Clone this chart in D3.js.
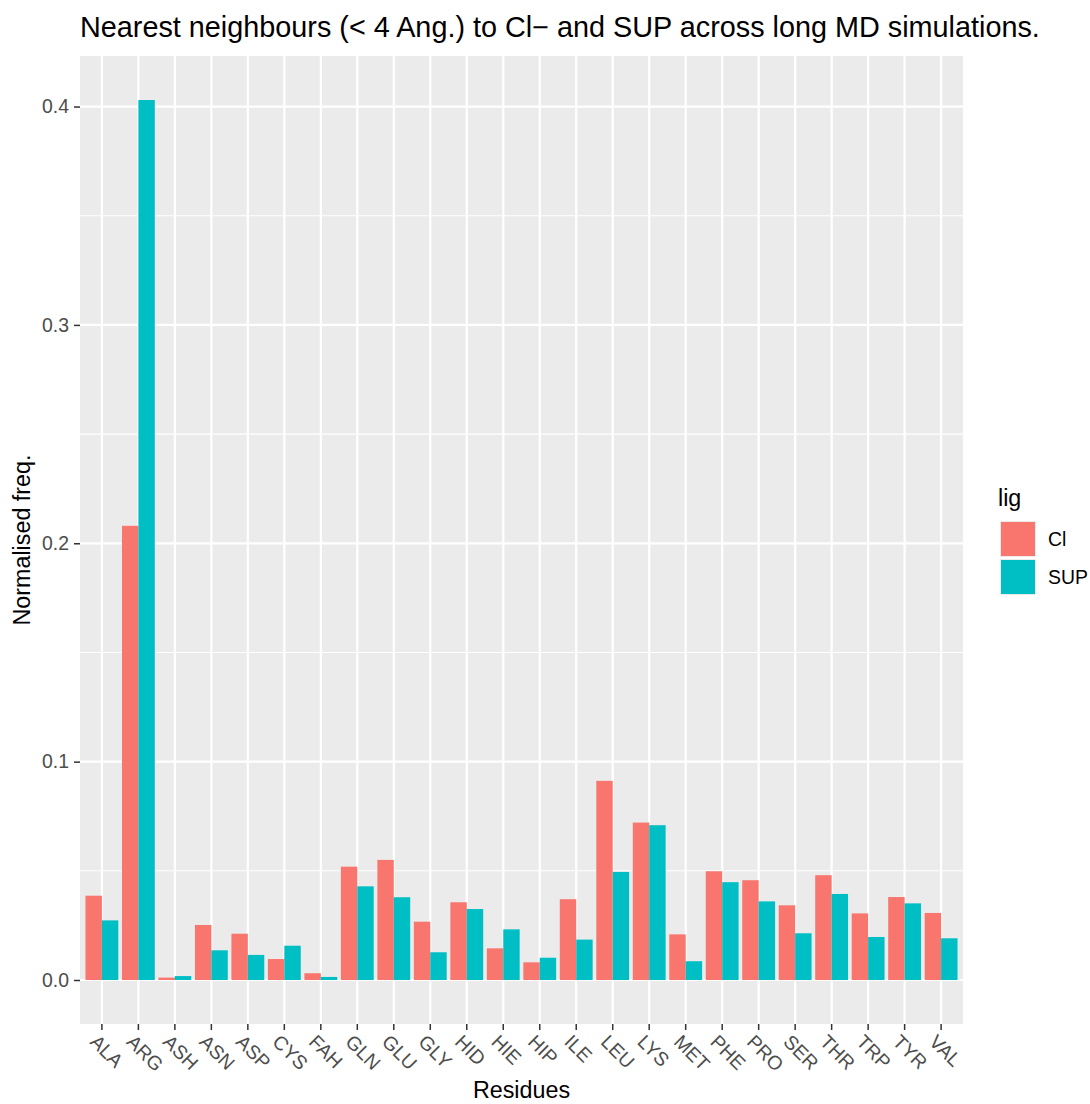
<!DOCTYPE html>
<html><head><meta charset="utf-8">
<script src="https://cdn.jsdelivr.net/npm/d3@7"></script>
<style>body{margin:0;background:#fff;} text{font-family:"Liberation Sans",Arial,sans-serif;}</style>
</head><body><svg id="c" width="1090" height="1104"></svg>
<script>
const residues = ["ALA","ARG","ASH","ASN","ASP","CYS","FAH","GLN","GLU","GLY","HID","HIE","HIP","ILE","LEU","LYS","MET","PHE","PRO","SER","THR","TRP","TYR","VAL"];
const ligands = ["Cl","SUP"];
const clValues  = [0.0386,0.208,0.0011,0.0252,0.0212,0.0096,0.0031,0.0519,0.0550,0.0267,0.0356,0.0145,0.0081,0.0370,0.0912,0.0721,0.0209,0.0498,0.0457,0.0342,0.0480,0.0305,0.0380,0.0307];
const supValues = [0.0273,0.403,0.0018,0.0136,0.0115,0.0157,0.0014,0.0429,0.0379,0.0127,0.0325,0.0232,0.0102,0.0185,0.0495,0.0709,0.0086,0.0448,0.0360,0.0214,0.0394,0.0197,0.0351,0.0191];
const yTicks = [0.0,0.1,0.2,0.3,0.4];
const yMinor = [0.05,0.15,0.25,0.35];
const colors = {"Cl":"#F8766D","SUP":"#00BFC4"};

const svg = d3.select("#c");
const L=80, R=963, T=56, B=1024;
const x = d3.scaleBand().domain(residues).range([L,R]).paddingOuter(0.1).paddingInner(0);
const xs = d3.scaleBand().domain(ligands).range([0,x.bandwidth()*0.9]);
const maxV = d3.max(supValues.concat(clValues));
const y = d3.scaleLinear().domain([-maxV*0.05, maxV*1.05]).range([B,T]);

svg.append("rect").attr("x",L).attr("y",T).attr("width",R-L).attr("height",B-T).attr("fill","#EBEBEB");
const g = svg.append("g");
yMinor.forEach(v=>g.append("line").attr("x1",L).attr("x2",R).attr("y1",y(v)).attr("y2",y(v)).attr("stroke","#fff").attr("stroke-width",1.1));
yTicks.forEach(v=>g.append("line").attr("x1",L).attr("x2",R).attr("y1",y(v)).attr("y2",y(v)).attr("stroke","#fff").attr("stroke-width",2.2));
residues.forEach(r=>{const cx=x(r)+x.bandwidth()/2; g.append("line").attr("x1",cx).attr("x2",cx).attr("y1",T).attr("y2",B).attr("stroke","#fff").attr("stroke-width",2.2);});

const data = residues.map((r,i)=>({r, vals:[{lig:"Cl",v:clValues[i]},{lig:"SUP",v:supValues[i]}]}));
const grp = svg.append("g").selectAll("g").data(data).join("g")
  .attr("transform",d=>`translate(${x(d.r)+x.bandwidth()*0.05},0)`);
grp.selectAll("rect").data(d=>d.vals).join("rect")
  .attr("x",d=>xs(d.lig)).attr("width",xs.bandwidth())
  .attr("y",d=>y(d.v)).attr("height",d=>y(0)-y(d.v))
  .attr("fill",d=>colors[d.lig]);

// y axis
const yAxis = svg.append("g").attr("transform",`translate(${L},0)`)
  .call(d3.axisLeft(y).tickValues(yTicks).tickFormat(d3.format(".1f")).tickSize(6).tickPadding(5));
yAxis.select(".domain").remove();
yAxis.selectAll(".tick line").attr("stroke","#333").attr("stroke-width",1.5);
yAxis.selectAll(".tick text").attr("fill","#4D4D4D").style("font-size","19.4px").style("font-family","Liberation Sans, Arial, sans-serif");

// x axis
const xAxis = svg.append("g").attr("transform",`translate(0,${B})`)
  .call(d3.axisBottom(x).tickSize(6).tickFormat(""));
xAxis.select(".domain").remove();
xAxis.selectAll(".tick line").attr("stroke","#333").attr("stroke-width",1.5);
svg.append("g").selectAll("text").data(residues).join("text")
  .attr("transform",d=>`translate(${x(d)+x.bandwidth()/2-13},${1043}) rotate(45)`)
  .attr("fill","#4D4D4D").style("font-size","19.4px").text(d=>d);

// titles
svg.append("text").attr("x",L).attr("y",37).style("font-size","28.8px").attr("fill","#000")
  .text("Nearest neighbours (< 4 Ang.) to Cl\u2212 and SUP across long MD simulations.");
svg.append("text").attr("x",(L+R)/2).attr("y",1098).attr("text-anchor","middle").style("font-size","23.3px").text("Residues");
svg.append("text").attr("transform",`translate(30,${(T+B)/2}) rotate(-90)`).attr("text-anchor","middle").style("font-size","23.3px").text("Normalised freq.");

// legend
const lg = svg.append("g");
lg.append("text").attr("x",998).attr("y",506).style("font-size","23.3px").text("lig");
ligands.forEach((l,i)=>{
  const yy = 521 + i*38;
  lg.append("rect").attr("x",1000).attr("y",yy).attr("width",36).attr("height",36).attr("fill","#EBEBEB");
  lg.append("rect").attr("x",1001).attr("y",yy+1).attr("width",34).attr("height",34).attr("fill",colors[l]);
  lg.append("text").attr("x",1048).attr("y",yy+18).attr("dy","0.35em").style("font-size","19.4px").text(l);
});
</script></body></html>
